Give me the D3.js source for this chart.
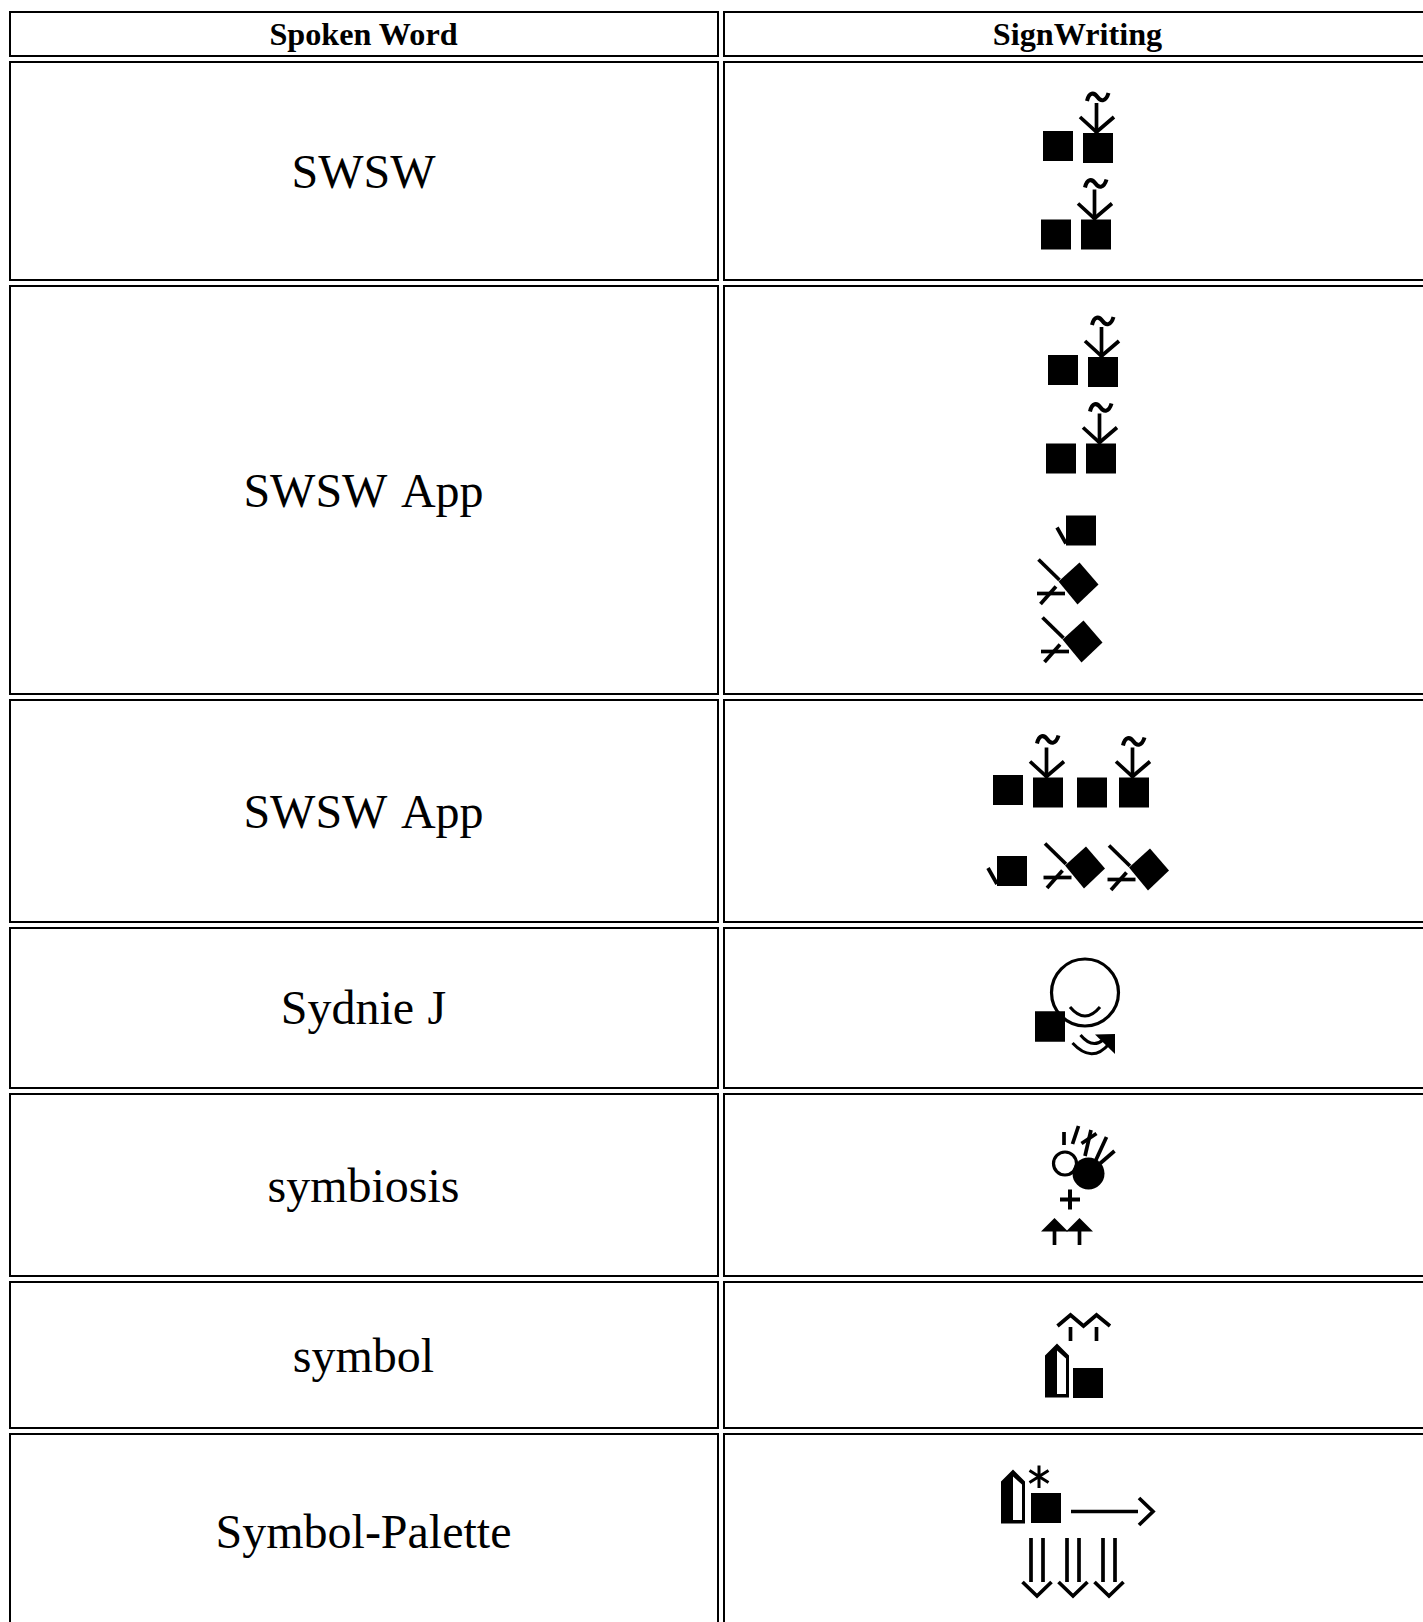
<!DOCTYPE html>
<html><head><meta charset="utf-8">
<script src="https://cdn.jsdelivr.net/npm/d3@7"></script>
<style>html,body{margin:0;padding:0;background:#fff;overflow:hidden}svg{display:block}</style>
</head><body><div id="c"></div>
<script>
// ---- table content
const headers = ["Spoken Word", "SignWriting"];
const words = ["SWSW", "SWSW App", "SWSW App", "Sydnie J", "symbiosis", "symbol", "Symbol-Palette"];

// ---- page layout (kept apart from the content above)
const W = 1423, H = 1622;
const colEdges = [[9, 719], [723, 1440]];
const headerEdge = [11, 57];
const rowEdges = [[61, 281], [285, 695], [699, 923], [927, 1089], [1093, 1277], [1281, 1429], [1433, 1631]];
const textCentre = [172, 491, 812, 1008, 1186, 1356, 1532];

// ---- placements of the SignWriting symbols, by symbol type
const squares = [
  [1043,131],[1083,133],[1041,219.5],[1081,219.5],
  [1048,355],[1088,357],[1046,443.5],[1086,443.5],[1066,515.5],
  [993,775],[1033,777.5],[1077,777.5],[1119,777.5],[997,856],
  [1035,1011.5],[1073,1368],[1031,1493]
];
const downArrows = [
  [1083,133,0],[1081,219.5,0],[1088,357,0],[1086,443.5,0],[1033,777.5,-2],[1119,777.5,0]
];
const tails = [[1066,515.5],[997,856]];
const diamonds = [[1078.5,583.5],[1082.5,641.5],[1085,867.5],[1149,869.5]];
const hands = [[1045,1343.5],[1001,1469.5]];
const doubleDown = [1037,1073,1109];

const svg = d3.select("#c").append("svg").attr("width", W).attr("height", H);
const defs = svg.append("defs");
defs.append("filter").attr("id","soft").attr("x","-5%").attr("y","-5%").attr("width","110%").attr("height","110%")
  .append("feGaussianBlur").attr("stdDeviation",0.55);

// cells
const cells = [];
[headerEdge, ...rowEdges].forEach(r => colEdges.forEach(c => cells.push({c, r})));
svg.append("g").selectAll("rect").data(cells).join("rect")
  .attr("x", d => d.c[0]+1).attr("y", d => d.r[0]+1)
  .attr("width", d => d.c[1]-d.c[0]-2).attr("height", d => d.r[1]-d.r[0]-2)
  .attr("fill","#fff").attr("stroke","#000").attr("stroke-width",2);

const serif = "'Liberation Serif','Times New Roman',serif";
svg.append("g").selectAll("text").data(headers).join("text")
  .attr("x",(d,i)=> i ? 1077.5 : 363.5)
  .attr("y",44.5).attr("text-anchor","middle")
  .attr("font-family",serif).attr("font-weight","bold").attr("font-size",32.2)
  .text(d=>d);
svg.append("g").selectAll("text").data(words).join("text")
  .attr("x",(colEdges[0][0]+colEdges[0][1])/2-0.5)
  .attr("y",(d,i)=>textCentre[i]+16)
  .attr("text-anchor","middle")
  .attr("font-family",serif).attr("font-size",48).attr("word-spacing",1.5)
  .style("font-kerning","none").attr("fill","#000")
  .text(d=>d);

// glyph layer
const g = svg.append("g").attr("filter","url(#soft)")
  .attr("fill","none").attr("stroke","#000").attr("stroke-width",3.7);
const line = d3.line();
const P = (pts) => g.append("path").attr("d", line(pts));
const tilde = (x,y) => g.append("path").attr("stroke-width",4)
  .attr("d",`M${x},${y+7} C${x+2},${y-2} ${x+7},${y-2} ${x+10.5},${y+3} C${x+14},${y+8} ${x+19},${y+7.5} ${x+21.5},${y-1}`);

g.selectAll(".sq").data(squares).join("rect").attr("class","sq")
  .attr("x",d=>d[0]).attr("y",d=>d[1]).attr("width",30).attr("height",30)
  .attr("fill","#000").attr("stroke","none");

downArrows.forEach(([x,y,t])=>{
  P([[x+13.5,y-30],[x+13.5,y]]);
  P([[x-3,y-16],[x+13.5,y-1],[x+31,y-16]]);
  tilde(x+4,y-39+t);
});
tails.forEach(([x,y])=>P([[x-9,y+12],[x,y+28]]));

diamonds.forEach(([x,y])=>{
  g.append("path").attr("fill","#000").attr("stroke","none")
    .attr("d",line([[x-20,y-2],[x+1,y-21],[x+20,y+1],[x-1,y+21]])+"Z");
  P([[x-40,y-24],[x-19,y-3.5]]);
  P([[x-41.5,y+10],[x-13.5,y+10]]);
  P([[x-38,y+20.5],[x-22.5,y+3]]);
});

// Sydnie J
g.append("circle").attr("cx",1085).attr("cy",992.5).attr("r",33.5).attr("stroke-width",3.2);
g.append("rect").attr("x",1035).attr("y",1011.5).attr("width",30).attr("height",30).attr("fill","#000").attr("stroke","none");
g.append("path").attr("d","M1070,1007 Q1085,1025 1100,1007").attr("stroke-width",3);
g.append("path").attr("d","M1072.5,1043 Q1092,1064 1109,1044").attr("stroke-width",3);
g.append("path").attr("d","M1080.5,1035 Q1092,1049 1103,1040").attr("stroke-width",3);
g.append("path").attr("fill","#000").attr("stroke","none").attr("d",line([[1095,1034.5],[1115,1034],[1115,1054]])+"Z");

// symbiosis
g.append("circle").attr("cx",1065).attr("cy",1163.5).attr("r",11.5).attr("stroke-width",3.2);
g.append("circle").attr("cx",1088.5).attr("cy",1173.5).attr("r",16).attr("fill","#000").attr("stroke","none");
[[[1064,1132],[1064,1145]],[[1078.5,1126],[1072.5,1144]],[[1091,1130],[1085,1156]],
 [[1081.5,1143.5],[1096.5,1133.5]],[[1106.5,1137],[1095,1162]],[[1114.5,1151],[1100,1163.5]]].forEach(p=>P(p));
g.append("path").attr("stroke-width",4).attr("d","M1060,1199.5H1080M1070,1189.5V1209.5");
[1054.5,1079.5].forEach(x=>{
  g.append("path").attr("fill","#000").attr("stroke","none")
    .attr("d",line([[x-13.5,1231.5],[x,1218],[x+13.5,1231.5]])+"Z");
  P([[x,1229],[x,1245]]);
});

// symbol
P([[1057.5,1326],[1070.5,1315],[1083.5,1326],[1096.5,1315],[1110,1326]]);
P([[1070.5,1327],[1070.5,1341]]); P([[1096.5,1327],[1096.5,1341]]);
hands.forEach(([x,y])=>{
  g.append("path").attr("fill","#000").attr("stroke","none").attr("fill-rule","evenodd")
    .attr("d",line([[x,y+12],[x+12,y],[x+24,y+12],[x+24,y+54],[x,y+54]])+"Z"
      +line([[x+12,y+7],[x+21,y+15],[x+21,y+50.5],[x+12,y+50.5]])+"Z");
});

// Symbol-Palette
g.append("path").attr("d","M1039,1465.5V1488M1029.5,1470.5L1048.5,1482.5M1048.5,1470.5L1029.5,1482.5").attr("stroke-width",3);
P([[1071,1511.5],[1138,1511.5]]);
P([[1139,1498],[1153,1511.5],[1139,1525]]);
doubleDown.forEach(x=>{
  P([[x-6,1538],[x-6,1582]]); P([[x+6,1538],[x+6,1582]]);
  P([[x-14.5,1582],[x,1596],[x+14.5,1582]]);
});
</script></body></html>
